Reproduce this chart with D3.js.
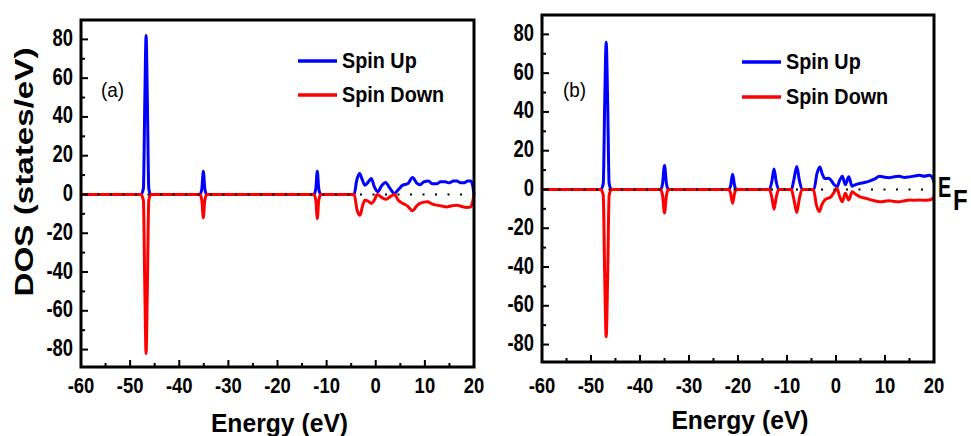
<!DOCTYPE html>
<html>
<head>
<meta charset="utf-8">
<script src="https://cdn.jsdelivr.net/npm/d3@7"></script>
<style>
  body { margin: 0; background: #fff; }
  svg { display: block; }
  text { font-family: "Liberation Sans", Arial, sans-serif; font-weight: bold; }
</style>
</head>
<body>
<script>
// panel (a) spin up / spin down, [energy eV, DOS]
var upA = [
    [-60, 0], [-47.8, 0], [-47.3, 3], [-47.0, 50], [-46.75, 82], [-46.5, 50], [-46.2, 3], [-45.8, 0],
    [-35.8, 0], [-35.4, 3], [-35.1, 12], [-34.8, 3], [-34.4, 0],
    [-12.6, 0], [-12.2, 3], [-11.9, 12], [-11.6, 3], [-11.2, 0],
    [-4.4, 0], [-3.9, 7], [-3.3, 10.8], [-2.8, 8], [-2.2, 4.8], [-1.5, 6.5], [-0.9, 8.3], [-0.3, 4],
    [0.4, 1.4], [1.2, 4.5], [2.0, 6.2], [2.8, 3.5], [3.8, 0.5], [4.6, 2.5], [5.5, 4.8], [6.5, 5.5],
    [7.5, 8.8], [8.3, 6], [9, 5], [9.8, 6.5], [10.7, 7], [11.5, 5.5], [12.4, 5.5], [13.2, 6.5],
    [14.1, 6.5], [15, 6], [15.8, 7], [16.5, 7], [17.3, 6], [18, 6], [18.7, 7], [19.3, 7], [19.7, 5], [20, 0]
];
var downA = [
    [-60, 0], [-47.8, 0], [-47.3, -3], [-47.0, -50], [-46.75, -82], [-46.5, -50], [-46.2, -3], [-45.8, 0],
    [-35.8, 0], [-35.4, -3], [-35.1, -12], [-34.8, -3], [-34.4, 0],
    [-12.6, 0], [-12.2, -3], [-11.9, -12.4], [-11.6, -3], [-11.2, 0],
    [-4.4, 0], [-3.8, -8], [-3.2, -10.7], [-2.7, -6], [-2.2, -3], [-1.5, -3.5], [-0.9, -4.6], [-0.3, -3],
    [0.3, 0], [1.2, -1.5], [2.1, -2.5], [3, -1], [3.8, 0], [4.6, -3], [5.5, -4.6], [6.5, -6],
    [7.5, -8.4], [8.3, -6], [9, -4.6], [10.5, -3.8], [11.5, -5], [12.4, -5.5], [13.4, -6], [14.4, -6.4],
    [15.5, -5.8], [16.5, -5.5], [17.5, -6.2], [18.5, -6.7], [19.3, -6.5], [19.7, -4], [20, 0]
];

// panel (b)
var upB = [
    [-60, 0], [-48, 0], [-47.5, 3], [-47.2, 45], [-46.9, 76], [-46.6, 45], [-46.3, 3], [-45.8, 0],
    [-35.8, 0], [-35.4, 3], [-35.0, 12.4], [-34.6, 3], [-34.2, 0],
    [-21.9, 0], [-21.5, 2], [-21.1, 7.8], [-20.7, 2], [-20.3, 0],
    [-13.6, 0], [-13.1, 4], [-12.65, 10.6], [-12.2, 4], [-11.7, 0],
    [-9.1, 0], [-8.6, 5], [-8.0, 11.9], [-7.5, 5], [-6.9, 0],
    [-4.5, 0], [-3.9, 8], [-3.3, 11.6], [-2.8, 8], [-2.3, 5.6], [-1.6, 5.8], [-1.0, 4.8], [-0.4, 2.5],
    [0.2, 1.4], [0.8, 5], [1.3, 6.8], [1.9, 2.5], [2.6, 6.5], [3.3, 1.7], [4, 2.5], [4.8, 3.1],
    [5.8, 3.6], [6.8, 4.3], [7.8, 5.3], [8.9, 6.8], [9.9, 6.3], [10.9, 6.1], [11.9, 6.6], [12.9, 6.8],
    [14, 6.2], [15, 6.5], [16, 6.9], [17, 7.3], [18, 6.8], [19, 7.3], [19.6, 6.5], [20, 3.5]
];
var downB = [
    [-60, 0], [-48, 0], [-47.5, -3], [-47.2, -45], [-46.9, -76], [-46.6, -45], [-46.3, -3], [-45.8, 0],
    [-35.8, 0], [-35.4, -3], [-35.0, -12.2], [-34.6, -3], [-34.2, 0],
    [-21.9, 0], [-21.5, -2], [-21.1, -7.1], [-20.7, -2], [-20.3, 0],
    [-13.6, 0], [-13.1, -4], [-12.65, -10.2], [-12.2, -4], [-11.7, 0],
    [-9.1, 0], [-8.6, -5], [-8.0, -11.9], [-7.5, -5], [-6.9, 0],
    [-4.6, 0], [-4.0, -8], [-3.4, -11.4], [-2.9, -8], [-2.3, -5.4], [-1.6, -4.5], [-1.0, -3.7], [-0.4, -1.5],
    [0.2, 0.5], [0.8, -4], [1.3, -6.3], [1.9, -2], [2.6, -5.4], [3.3, -1.2], [4, -2.5], [4.8, -3.7],
    [5.8, -4.4], [6.8, -5.1], [7.8, -5.8], [8.9, -6.3], [9.9, -6.1], [10.9, -5.8], [11.9, -6.2], [12.9, -6.3],
    [14, -5.8], [15, -5.4], [16, -5.6], [17, -5.4], [18, -5.6], [19, -5.4], [19.6, -5], [20, -3.5]
];

var xTicks = [-60, -50, -40, -30, -20, -10, 0, 10, 20];
var xMinorTicks = [-55, -45, -35, -25, -15, -5, 5, 15];
var yTicks = [-80, -60, -40, -20, 0, 20, 40, 60, 80];
var yMinorTicks = [-70, -50, -30, -10, 10, 30, 50, 70];
var seriesNames = ['Spin Up', 'Spin Down'];
var seriesColors = ['#0000ff', '#ff0000'];

var svg = d3.select('body').append('svg')
    .attr('width', 971)
    .attr('height', 436);

// text squeezed horizontally, like the narrow font of the original
var addText = function(parent, x, y, str, size, sx, anchor) {
    return parent.append('text')
        .attr('transform', 'translate(' + x + ',' + y + ') scale(' + sx + ',1)')
        .attr('text-anchor', anchor || 'start')
        .style('font-size', size + 'px')
        .text(str);
};

var drawPanel = function(opt) {
    var x = d3.scaleLinear().domain([-60, 20]).range([opt.left, opt.right]);
    var y = d3.scaleLinear().domain([-89, 90]).range([opt.bottom, opt.top]);
    var g = svg.append('g');

    var line = d3.line()
        .x(function(d) { return x(d[0]); })
        .y(function(d) { return y(d[1]); })
        .curve(d3.curveMonotoneX);

    [opt.up, opt.down].forEach(function(series, i) {
        g.append('path')
            .datum(series)
            .attr('d', line)
            .attr('fill', 'none')
            .attr('stroke', seriesColors[i])
            .attr('stroke-width', 3)
            .attr('stroke-linejoin', 'round');
    });

    // dotted zero line
    g.append('line')
        .attr('x1', x(-60) + 4).attr('x2', x(20))
        .attr('y1', y(0)).attr('y2', y(0))
        .attr('stroke', '#000')
        .attr('stroke-width', 2)
        .attr('stroke-dasharray', '2 10.5');

    // ticks, pointing inward
    xTicks.forEach(function(t) {
        g.append('line').attr('x1', x(t)).attr('x2', x(t))
            .attr('y1', opt.bottom).attr('y2', opt.bottom - 7)
            .attr('stroke', '#000').attr('stroke-width', 2);
        addText(g, x(t), 393, t, 22, 0.84, 'middle');
    });
    xMinorTicks.forEach(function(t) {
        g.append('line').attr('x1', x(t)).attr('x2', x(t))
            .attr('y1', opt.bottom).attr('y2', opt.bottom - 4)
            .attr('stroke', '#000').attr('stroke-width', 2);
    });
    yTicks.forEach(function(t) {
        g.append('line').attr('x1', opt.left).attr('x2', opt.left + 7)
            .attr('y1', y(t)).attr('y2', y(t))
            .attr('stroke', '#000').attr('stroke-width', 2);
        addText(g, opt.left - 8, y(t) + 6.5, t, 23, 0.8, 'end');
    });
    yMinorTicks.forEach(function(t) {
        g.append('line').attr('x1', opt.left).attr('x2', opt.left + 4)
            .attr('y1', y(t)).attr('y2', y(t))
            .attr('stroke', '#000').attr('stroke-width', 2);
    });

    // frame
    g.append('rect')
        .attr('x', opt.left).attr('y', opt.top)
        .attr('width', opt.right - opt.left)
        .attr('height', opt.bottom - opt.top)
        .attr('fill', 'none')
        .attr('stroke', '#000')
        .attr('stroke-width', 3);

    // legend
    seriesNames.forEach(function(name, i) {
        var ly = opt.legendY[i];
        g.append('line')
            .attr('x1', opt.legendX).attr('x2', opt.legendX + 39)
            .attr('y1', ly).attr('y2', ly)
            .attr('stroke', seriesColors[i])
            .attr('stroke-width', 3.5);
        addText(g, opt.legendX + 44, ly + 7, name, 22, 0.9);
    });

    addText(g, opt.labelX, 97, opt.label, 21, 0.9).style('font-weight', 'normal');

    addText(g, (opt.left + opt.right) / 2 + 2, opt.titleY, 'Energy (eV)', 26, 0.95, 'middle');
};

drawPanel({
    up: upA, down: downA, label: '(a)', labelX: 101,
    left: 81, right: 474, top: 20, bottom: 367,
    legendX: 298, legendY: [61, 95], titleY: 432
});

drawPanel({
    up: upB, down: downB, label: '(b)', labelX: 563,
    left: 542, right: 934, top: 15, bottom: 362,
    legendX: 742, legendY: [62, 97], titleY: 429
});

svg.append('text')
    .attr('transform', 'translate(33, 172) rotate(-90)')
    .attr('text-anchor', 'middle')
    .attr('textLength', 249)
    .attr('lengthAdjust', 'spacingAndGlyphs')
    .style('font-size', '25px')
    .text('DOS (states/eV)');

// Fermi level label
addText(svg, 938, 197, 'E', 30, 0.66);
addText(svg, 953, 210, 'F', 30, 0.8);
</script>
</body>
</html>
